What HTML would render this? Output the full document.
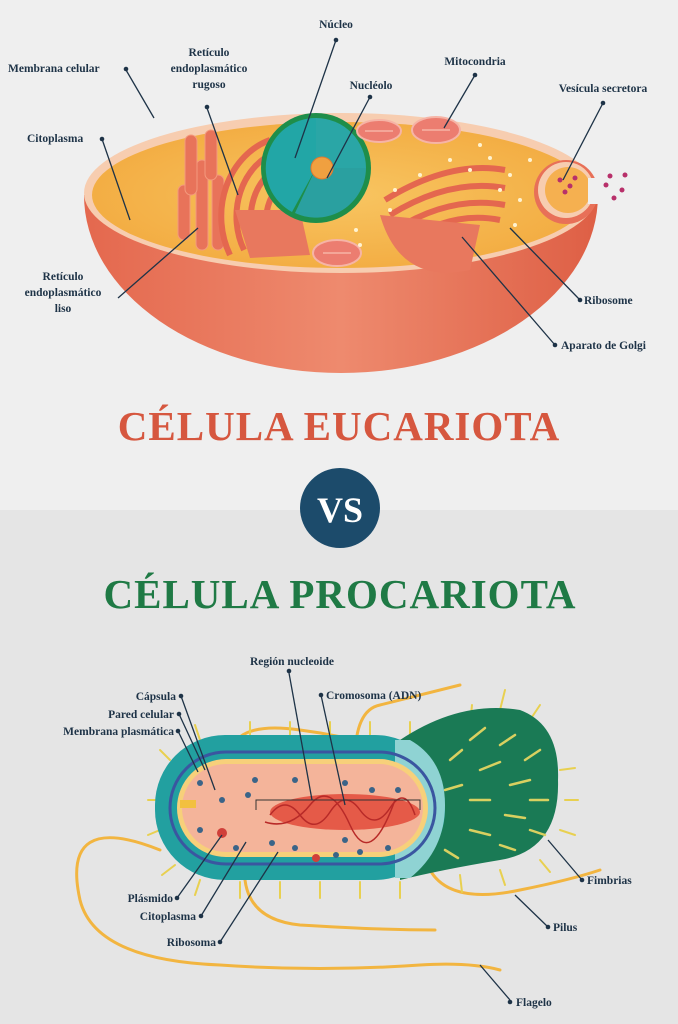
<!DOCTYPE html>
<html><head><meta charset="utf-8"><style>
html,body{margin:0;padding:0;width:678px;height:1024px;overflow:hidden;background:#efefef}
svg{display:block}
text{font-family:"Liberation Serif",serif;font-weight:bold}
.l{font-size:11.5px;fill:#1e3347}
</style></head><body>
<svg width="678" height="1024" viewBox="0 0 678 1024" xmlns="http://www.w3.org/2000/svg">
<defs>
<linearGradient id="bowl" x1="0" y1="0" x2="1" y2="0">
<stop offset="0" stop-color="#e4684e"/><stop offset="0.5" stop-color="#ee8a6e"/><stop offset="1" stop-color="#de5f45"/></linearGradient>
<radialGradient id="cyt" cx="0.5" cy="0.5" r="0.6"><stop offset="0" stop-color="#f8c561"/><stop offset="1" stop-color="#f2a93e"/></radialGradient>
</defs>
<rect x="0" y="0" width="678" height="510" fill="#efefef"/>
<rect x="0" y="510" width="678" height="514" fill="#e5e5e5"/>

<!-- Eukaryotic cell -->
<path d="M84,195 A257,178 0 0 0 598,195 Z" fill="url(#bowl)"/>
<ellipse cx="341" cy="193" rx="257" ry="80" fill="#f7cdb0"/>
<ellipse cx="341" cy="195" rx="249" ry="73" fill="url(#cyt)"/>
<!-- vesicle -->
<circle cx="566" cy="192" r="32" fill="#e87058"/>
<circle cx="566" cy="190" r="28" fill="#f7cdb0"/>
<circle cx="568" cy="190" r="23" fill="#f5b050"/>
<rect x="588" y="178" width="14" height="26" fill="#efefef"/>
<g fill="#b8306a"><circle cx="560" cy="180" r="2.5"/><circle cx="570" cy="186" r="2.5"/><circle cx="565" cy="192" r="2.5"/><circle cx="575" cy="178" r="2.5"/><circle cx="606" cy="185" r="2.5"/><circle cx="614" cy="198" r="2.5"/><circle cx="622" cy="190" r="2.5"/><circle cx="610" cy="176" r="2.5"/><circle cx="625" cy="175" r="2.5"/></g>
<!-- ER smooth -->
<g fill="#e8735a" stroke="#f49a7d" stroke-width="1">
<rect x="178" y="185" width="12" height="55" rx="6"/><rect x="196" y="160" width="12" height="90" rx="6"/><rect x="212" y="175" width="12" height="75" rx="6"/><rect x="185" y="135" width="12" height="60" rx="6"/><rect x="205" y="130" width="12" height="50" rx="6"/>
</g>
<!-- ER rough -->
<g fill="none" stroke="#e4674f" stroke-width="6">
<path d="M230,255 A70,80 0 0 1 270,140"/><path d="M244,250 A58,68 0 0 1 276,152"/><path d="M258,248 A45,55 0 0 1 284,165"/><path d="M272,245 A32,42 0 0 1 290,180"/>
</g>
<path d="M235,210 L300,210 L310,255 L250,258 Z" fill="#e8785e"/>
<!-- nucleus -->
<circle cx="316" cy="168" r="55" fill="#1e8e4a"/>
<path d="M316,168 L316,118 A50,50 0 0 1 366,168 Z" fill="#2aa6a6"/>
<path d="M316,168 L366,168 A50,50 0 0 1 295,213 Z" fill="#2aa0a0"/>
<path d="M316,168 L316,118 A50,50 0 0 0 292,212 Z" fill="#22a6a6"/>
<circle cx="322" cy="168" r="11" fill="#f0a040" stroke="#e07a30"/>
<!-- mitochondria -->
<g fill="#ec7d70" stroke="#f6b4a6" stroke-width="2">
<ellipse cx="379" cy="131" rx="22" ry="11"/><ellipse cx="436" cy="130" rx="24" ry="13"/><ellipse cx="337" cy="253" rx="24" ry="13"/>
</g>
<g stroke="#f6b4a6" stroke-width="1.5"><path d="M365,131 L393,131 M422,130 L450,130 M323,253 L351,253"/></g>
<!-- golgi -->
<g fill="none" stroke="#e4674f" stroke-width="6">
<path d="M385,200 Q450,160 505,170"/><path d="M390,215 Q450,178 505,188"/><path d="M395,230 Q450,195 505,205"/><path d="M400,245 Q450,210 500,220"/>
</g>
<path d="M380,215 Q400,285 470,270 L480,225 Z" fill="#e8785e"/>
<g fill="#fff3d0"><circle cx="470" cy="170" r="2"/><circle cx="490" cy="158" r="2"/><circle cx="510" cy="175" r="2"/><circle cx="500" cy="190" r="2"/><circle cx="450" cy="160" r="2"/><circle cx="420" cy="175" r="2"/><circle cx="395" cy="190" r="2"/><circle cx="520" cy="200" r="2"/><circle cx="515" cy="225" r="2"/><circle cx="480" cy="145" r="2"/><circle cx="530" cy="160" r="2"/><circle cx="356" cy="230" r="2"/><circle cx="360" cy="245" r="2"/><circle cx="390" cy="210" r="2"/></g>

<!-- Top labels -->
<g stroke="#1e3347" stroke-width="1.3" fill="none">
<path d="M126,70 L154,118"/><path d="M102,139 L130,220"/><path d="M207,108 L238,195"/><path d="M336,40 L295,158"/><path d="M370,97 L327,178"/><path d="M475,75 L444,128"/><path d="M603,103 L563,180"/><path d="M118,298 L198,228"/><path d="M580,300 L510,228"/><path d="M555,345 L462,237"/>
</g>
<g fill="#1e3347"><circle cx="126" cy="69" r="2.3"/><circle cx="102" cy="139" r="2.3"/><circle cx="207" cy="107" r="2.3"/><circle cx="336" cy="40" r="2.3"/><circle cx="370" cy="97" r="2.3"/><circle cx="475" cy="75" r="2.3"/><circle cx="603" cy="103" r="2.3"/><circle cx="580" cy="300" r="2.3"/><circle cx="555" cy="345" r="2.3"/></g>
<text class="l" x="8" y="72">Membrana celular</text>
<text class="l" x="27" y="142">Citoplasma</text>
<text class="l" x="209" y="56" text-anchor="middle">Retículo</text>
<text class="l" x="209" y="72" text-anchor="middle">endoplasmático</text>
<text class="l" x="209" y="88" text-anchor="middle">rugoso</text>
<text class="l" x="336" y="28" text-anchor="middle">Núcleo</text>
<text class="l" x="371" y="89" text-anchor="middle">Nucléolo</text>
<text class="l" x="475" y="65" text-anchor="middle">Mitocondria</text>
<text class="l" x="603" y="92" text-anchor="middle">Vesícula secretora</text>
<text class="l" x="63" y="280" text-anchor="middle">Retículo</text>
<text class="l" x="63" y="296" text-anchor="middle">endoplasmático</text>
<text class="l" x="63" y="312" text-anchor="middle">liso</text>
<text class="l" x="584" y="304">Ribosome</text>
<text class="l" x="561" y="349">Aparato de Golgi</text>

<!-- Titles -->
<text x="339" y="440" text-anchor="middle" font-size="41" fill="#d6573f" letter-spacing="1">CÉLULA EUCARIOTA</text>
<circle cx="340" cy="508" r="40" fill="#1c4b6b"/>
<text x="340" y="522" text-anchor="middle" font-size="36" fill="#ffffff">VS</text>
<text x="340" y="608" text-anchor="middle" font-size="41" fill="#1f7a45" letter-spacing="1">CÉLULA PROCARIOTA</text>

<!-- Bacterium -->
<g fill="none" stroke="#f2b540" stroke-width="3" stroke-linecap="round">
<path d="M160,850 Q60,810 80,900 Q95,960 220,965 Q320,972 420,965 Q470,962 500,970"/>
<path d="M230,760 Q230,720 300,730 Q340,735 380,747"/>
<path d="M355,760 Q355,710 380,705 Q420,695 460,685"/>
<path d="M245,880 Q250,920 300,925 Q380,930 435,930"/>
<path d="M430,870 Q450,905 520,890 Q570,880 600,870"/>
</g>
<g stroke="#e8d050" stroke-width="2" stroke-linecap="round">
<path d="M170,760 L160,750"/><path d="M200,740 L195,725"/><path d="M250,740 L250,722"/><path d="M290,740 L290,722"/><path d="M330,740 L330,722"/><path d="M370,740 L370,722"/><path d="M410,740 L410,722"/><path d="M160,800 L148,800"/><path d="M160,830 L148,835"/><path d="M175,865 L162,875"/><path d="M200,880 L195,895"/><path d="M240,882 L240,898"/><path d="M280,882 L280,898"/><path d="M320,882 L320,898"/><path d="M360,882 L360,898"/><path d="M400,882 L400,898"/>
<path d="M470,725 L472,705"/><path d="M500,710 L505,690"/><path d="M530,720 L540,705"/><path d="M560,770 L575,768"/><path d="M565,800 L578,800"/><path d="M560,830 L575,835"/><path d="M540,860 L550,872"/><path d="M500,870 L505,885"/><path d="M460,875 L462,892"/>
</g>
<path d="M400,740 Q460,700 520,710 Q560,725 558,780 Q560,850 500,860 Q440,870 400,880 Z" fill="#1a7a55"/>
<g stroke="#d9d060" stroke-width="2.5" stroke-linecap="round">
<path d="M470,740 L485,728"/><path d="M500,745 L515,735"/><path d="M525,760 L540,750"/><path d="M480,770 L500,762"/><path d="M510,785 L530,780"/><path d="M470,800 L490,800"/><path d="M505,815 L525,818"/><path d="M470,830 L490,835"/><path d="M500,845 L515,850"/><path d="M530,830 L545,835"/><path d="M530,800 L548,800"/><path d="M450,760 L462,750"/><path d="M445,790 L462,785"/><path d="M445,850 L458,858"/>
</g>
<rect x="155" y="735" width="290" height="145" rx="70" fill="#22a0a0"/>
<path d="M410,740 Q445,760 445,805 Q445,850 410,878 L395,878 L395,740Z" fill="#8fd3d3"/>
<rect x="170" y="752" width="265" height="112" rx="56" fill="none" stroke="#3a56a0" stroke-width="3"/>
<rect x="177" y="759" width="251" height="98" rx="49" fill="#f7d07a"/>
<rect x="182" y="764" width="241" height="88" rx="44" fill="#f4b49a"/>
<rect x="180" y="800" width="16" height="8" fill="#f2c040"/>
<ellipse cx="345" cy="812" rx="75" ry="18" fill="#e24a3a" opacity="0.85"/>
<g fill="none" stroke="#b82a28" stroke-width="1.5">
<path d="M270,815 Q285,795 300,815 T330,812 T360,810 T390,808 T415,815"/>
<path d="M265,822 Q290,830 310,805 T350,825 T395,800"/>
</g>
<path d="M256,810 L256,800 L420,800 L420,810" fill="none" stroke="#333" stroke-width="1"/>
<g fill="#3a6488"><circle cx="200" cy="783" r="3"/><circle cx="222" cy="800" r="3"/><circle cx="248" cy="795" r="3"/><circle cx="200" cy="830" r="3"/><circle cx="236" cy="848" r="3"/><circle cx="272" cy="843" r="3"/><circle cx="295" cy="848" r="3"/><circle cx="336" cy="855" r="3"/><circle cx="360" cy="852" r="3"/><circle cx="388" cy="848" r="3"/><circle cx="345" cy="840" r="3"/><circle cx="295" cy="780" r="3"/><circle cx="345" cy="783" r="3"/><circle cx="372" cy="790" r="3"/><circle cx="398" cy="790" r="3"/><circle cx="255" cy="780" r="3"/></g>
<circle cx="222" cy="833" r="5" fill="#d0403a"/><circle cx="316" cy="858" r="4" fill="#d0403a"/>

<!-- Bottom labels -->
<g stroke="#1e3347" stroke-width="1.3" fill="none">
<path d="M181,696 L215,790"/><path d="M179,714 L205,770"/><path d="M178,731 L198,772"/><path d="M289,673 L312,800"/><path d="M321,695 L345,805"/><path d="M177,898 L222,835"/><path d="M201,916 L246,842"/><path d="M220,942 L278,852"/><path d="M582,880 L548,840"/><path d="M548,927 L515,895"/><path d="M510,1000 L480,965"/>
</g>
<g fill="#1e3347"><circle cx="181" cy="696" r="2.3"/><circle cx="179" cy="714" r="2.3"/><circle cx="178" cy="731" r="2.3"/><circle cx="289" cy="671" r="2.3"/><circle cx="321" cy="695" r="2.3"/><circle cx="177" cy="898" r="2.3"/><circle cx="201" cy="916" r="2.3"/><circle cx="220" cy="942" r="2.3"/><circle cx="582" cy="880" r="2.3"/><circle cx="548" cy="927" r="2.3"/><circle cx="510" cy="1002" r="2.3"/></g>
<text class="l" x="176" y="700" text-anchor="end">Cápsula</text>
<text class="l" x="174" y="718" text-anchor="end">Pared celular</text>
<text class="l" x="174" y="735" text-anchor="end">Membrana plasmática</text>
<text class="l" x="292" y="665" text-anchor="middle">Región nucleoide</text>
<text class="l" x="326" y="699">Cromosoma (ADN)</text>
<text class="l" x="173" y="902" text-anchor="end">Plásmido</text>
<text class="l" x="196" y="920" text-anchor="end">Citoplasma</text>
<text class="l" x="216" y="946" text-anchor="end">Ribosoma</text>
<text class="l" x="587" y="884">Fimbrias</text>
<text class="l" x="553" y="931">Pilus</text>
<text class="l" x="516" y="1006">Flagelo</text>
</svg>
</body></html>
